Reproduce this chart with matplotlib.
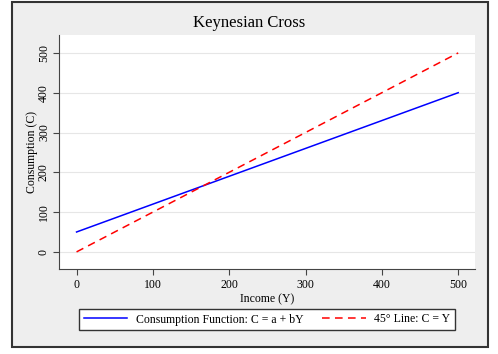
import matplotlib.pyplot as plt
from matplotlib.patches import Rectangle

# data
income = [0, 100, 200, 300, 400, 500]
consumption = [50, 120, 190, 260, 330, 400]
line45 = [0, 100, 200, 300, 400, 500]
ticks = [0, 100, 200, 300, 400, 500]

plt.rcParams['font.family'] = ['Liberation Serif', 'DejaVu Serif']

W, H = 498, 354
fig = plt.figure(figsize=(W / 100, H / 100), dpi=100)
fig.patch.set_facecolor('white')

# gray graph region with dark border
fig.patches.append(Rectangle((12 / W, 1 - 347 / H), (488 - 12) / W, (347 - 2) / H,
                             transform=fig.transFigure, facecolor='#EEEEEE',
                             edgecolor='#333333', linewidth=1.5, zorder=-5))

ax = fig.add_axes([59 / W, 1 - 269 / H, (475 - 59) / W, (269 - 35) / H])
ax.set_facecolor('white')

ax.plot(income, consumption, color='#0000FF', lw=1.1, label='Consumption Function: C = a + bY')
ax.plot(income, line45, color='#FF0000', lw=1.1, ls=(0, (5, 3.5)), label='45° Line: C = Y')

ax.set_xlim(-23, 522)
ax.set_ylim(-43, 545)
ax.set_xticks(ticks)
ax.set_yticks(ticks)
ax.tick_params(labelsize=8.5, length=4, width=0.8, color='#444444', direction='out')
ax.tick_params(axis='y', pad=2.5)
for lab in ax.get_yticklabels():
    lab.set_rotation(90)
    lab.set_va('center')
ax.grid(axis='y', color='#E6E6E6', lw=0.8)
ax.set_axisbelow(True)
for s in ['top', 'right']:
    ax.spines[s].set_visible(False)
for s in ['left', 'bottom']:
    ax.spines[s].set_color('#444444')
    ax.spines[s].set_linewidth(0.8)

ax.set_xlabel('Income (Y)', fontsize=8.5, labelpad=1)
ax.set_ylabel('Consumption (C)', fontsize=8.5, labelpad=0)
fig.text(0.5, 1 - 23 / H, 'Keynesian Cross', ha='center', va='center', fontsize=12)

fig.legend(loc='center', ncol=2,
           bbox_to_anchor=(267 / W, 1 - 319.5 / H),
           fontsize=8.5, frameon=True, fancybox=False, edgecolor='#333333',
           facecolor='white', framealpha=1, handlelength=3.7, handletextpad=0.7,
           columnspacing=1.6, borderpad=0.4)

fig.savefig('out.png', dpi=100)
